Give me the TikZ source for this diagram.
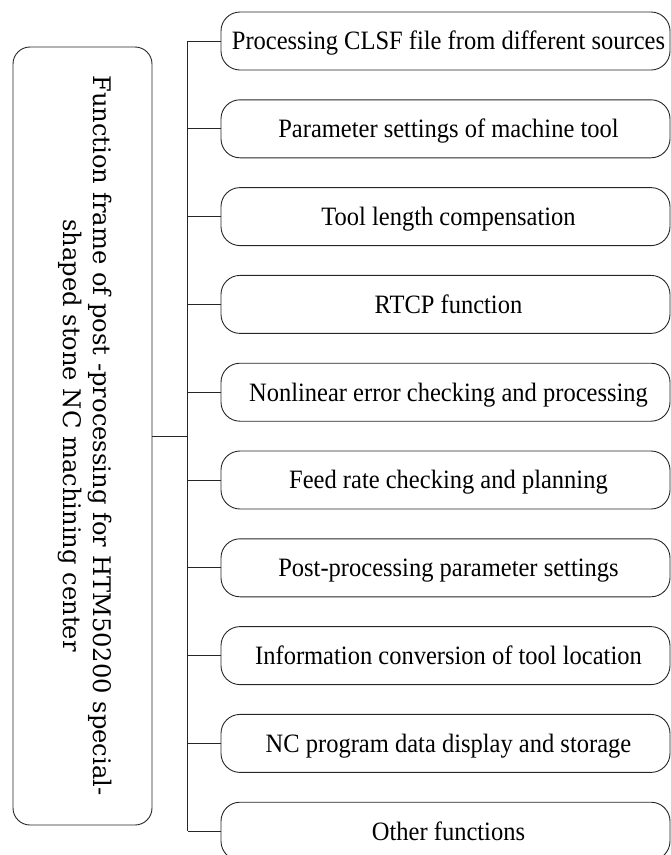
\documentclass[tikz,border=0pt]{standalone}
\usepackage{fontspec}
\setmainfont{Liberation Serif}
\newfontfamily\rfont{Liberation Serif}[FakeStretch=0.925]
\newfontfamily\lfont{DejaVu Serif}
\begin{document}
\begin{tikzpicture}[x=1pt,y=-1pt,
  line width=0.9pt,
  fnbox/.style={draw=black!85, rounded corners=19pt, minimum width=449pt, minimum height=58pt,
    inner sep=0pt, text height=20pt, text depth=2.4pt, font=\rfont\fontsize{26.5}{30}\selectfont},
  mainbox/.style={draw=black!85, rounded corners=17pt, minimum width=139pt, minimum height=778pt, inner sep=0pt},
  maintext/.style={rotate=-90, align=center, inner sep=0pt, font=\lfont\fontsize{24.2}{30}\selectfont},
  link/.style={draw=black!85, line width=0.9pt}]
\useasboundingbox (0,0) rectangle (671,855);
\clip (0,0) rectangle (671,855);
\node[mainbox] (lbox) at (82.5,436) {};
\node[maintext] (ltext) at (85,435.5) {Function frame of post -processing for HTM50200 special-\\shaped stone NC machining center};
\foreach \i/\t in {0/Processing CLSF file from different sources,
  1/Parameter settings of machine tool,
  2/Tool length compensation,
  3/RTCP function,
  4/Nonlinear error checking and processing,
  5/Feed rate checking and planning,
  6/Post-processing parameter settings,
  7/Information conversion of tool location,
  8/NC program data display and storage,
  9/Other functions}{
  \node[fnbox] (b\i) at (445.5, 41+87.8*\i) {\hspace*{6pt}\t};
}
\coordinate (busTop) at (187.7,41);
\coordinate (busBot) at (187.7,831.2);
\coordinate (busMid) at (187.7,436);
\draw[link] (busTop) -- (busBot);
\draw[link] (lbox.east) -- (busMid);
\foreach \i in {0,...,9}{
  \draw[link] (b\i.west) -- (b\i.west -| busTop);
}
\end{tikzpicture}
\end{document}
